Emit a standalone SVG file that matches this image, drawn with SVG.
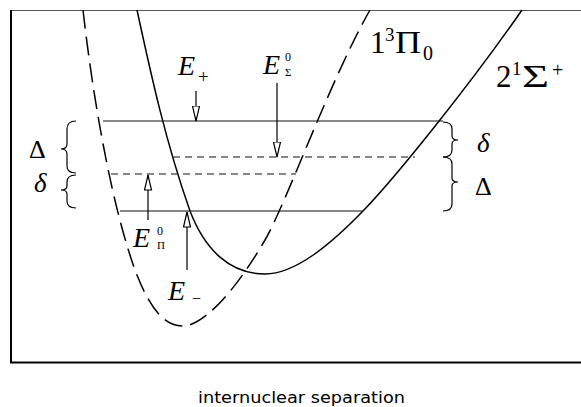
<svg xmlns="http://www.w3.org/2000/svg" width="581" height="407" viewBox="0 0 581 407">
<defs>
<style>
.curve{fill:none;stroke:#000;stroke-width:1.5}
.dash{stroke-dasharray:19 8}
.lvl{fill:none;stroke:#111;stroke-width:1.2}
.lvld{stroke-dasharray:7 5}
.brace{fill:none;stroke:#000;stroke-width:1.2}
.arr{fill:none;stroke:#000;stroke-width:1.2;marker-end:url(#oh)}
.it{font-family:"Liberation Serif","DejaVu Serif",serif;font-style:italic;fill:#000}
.rm{font-family:"Liberation Serif","DejaVu Serif",serif;fill:#000}
.ax{font-family:"DejaVu Sans","Liberation Sans",sans-serif;font-size:15px;fill:#000}
</style>
<marker id="oh" markerUnits="userSpaceOnUse" markerWidth="18" markerHeight="10" refX="15.5" refY="4.5" orient="auto">
<path d="M0.5,1 L15.5,4.5 L0.5,8 Z" fill="#fff" stroke="#000" stroke-width="1.2"/>
</marker>
</defs>
<rect width="581" height="407" fill="#fff"/>
<g id="frame">
<line x1="11" y1="10.5" x2="581" y2="10.5" stroke="#555" stroke-width="1"/>
<line x1="11" y1="10" x2="11" y2="363" stroke="#000" stroke-width="2"/>
<line x1="10" y1="362.5" x2="581" y2="362.5" stroke="#000" stroke-width="2"/>
</g>
<g id="curve-sigma">
<path class="curve" d="M137,10 C150,70 165,140 190,211 C205,250 230,274 265,274 C295,274 330,245 363,211 C395,178 470,85 522,10"/>
</g>
<g id="curve-pi">
<path class="curve dash" d="M83,10 C92,90 110,200 135,270 C150,310 165,326 183,326 C200,326 230,300 265,240 C286,204 330,80 370,10"/>
</g>
<g id="levels">
<line class="lvl" x1="103" y1="121" x2="443" y2="121"/>
<line class="lvl lvld" x1="173" y1="157" x2="415" y2="157"/>
<line class="lvl lvld" x1="111" y1="174" x2="296" y2="174"/>
<line class="lvl" x1="120" y1="211" x2="363" y2="211"/>
</g>
<g id="braces">
<path class="brace" d="M76,121 Q67,121 67,129 L67,144 Q67,149 61,149 Q67,149 67,154 L67,166 Q67,173 76,173"/>
<path class="brace" d="M76,175 Q67,175 67,182 L67,186 Q67,190 61,190 Q67,190 67,194 L67,201 Q67,208 76,208"/>
<path class="brace" d="M443,122 Q452,122 452,129 L452,136 Q452,140 458,140 Q452,140 452,144 L452,150 Q452,157 443,157"/>
<path class="brace" d="M443,157 Q452,157 452,164 L452,178 Q452,182 458,182 Q452,182 452,186 L452,204 Q452,211 443,211"/>
</g>
<g id="connectors">
<line class="arr" x1="196" y1="91" x2="196" y2="121"/>
<line class="arr" x1="277" y1="83" x2="277" y2="157"/>
<line class="arr" x1="148" y1="220" x2="148" y2="175"/>
<line class="arr" x1="187" y1="270" x2="187" y2="212"/>
</g>
<g id="label-Eplus">
<text class="it" x="178" y="75" font-size="28">E</text>
<text class="rm" x="198" y="83" font-size="19">+</text>
</g>
<g id="label-Esigma">
<text class="it" x="263" y="74" font-size="28">E</text>
<text class="rm" x="285" y="61" font-size="12">0</text>
<text class="rm" x="285" y="75.5" font-size="11">Σ</text>
</g>
<g id="label-Epi">
<text class="it" x="133" y="247" font-size="28">E</text>
<text class="rm" x="157" y="235" font-size="12">0</text>
<text class="rm" x="157" y="249" font-size="11">Π</text>
</g>
<g id="label-Eminus">
<text class="it" x="168" y="300" font-size="28">E</text>
<text class="rm" x="192" y="304" font-size="16">−</text>
</g>
<g id="label-1Pi">
<text class="rm" x="370" y="53" font-size="31">1</text>
<text class="rm" x="385" y="41" font-size="19">3</text>
<text class="rm" x="395" y="53" font-size="31" textLength="26" lengthAdjust="spacingAndGlyphs">Π</text>
<text class="rm" x="423" y="60" font-size="20">0</text>
</g>
<g id="label-2Sigma">
<text class="rm" x="496" y="87" font-size="31">2</text>
<text class="rm" x="512" y="75" font-size="19">1</text>
<text class="rm" x="522" y="87" font-size="31" textLength="27" lengthAdjust="spacingAndGlyphs">Σ</text>
<text class="rm" x="552" y="77" font-size="20">+</text>
</g>
<g id="label-gaps">
<text class="rm" x="29" y="158" font-size="26">Δ</text>
<text class="it" x="34" y="192" font-size="27">δ</text>
<text class="it" x="477" y="152" font-size="27">δ</text>
<text class="rm" x="475" y="195" font-size="26">Δ</text>
</g>
<g id="axis-label">
<text class="ax" x="198" y="403" textLength="207" lengthAdjust="spacingAndGlyphs">internuclear separation</text>
</g>
</svg>
